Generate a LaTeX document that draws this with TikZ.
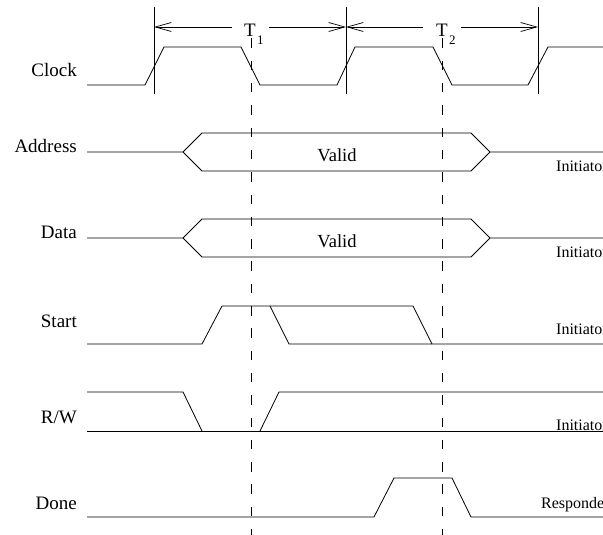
\documentclass[tikz,border=0pt]{standalone}
\usepackage{fontspec}
\setmainfont{Liberation Serif}
\usetikzlibrary{arrows.meta}
\begin{document}
\begin{tikzpicture}[x=1pt,y=-1pt,
  wave/.style={line width=0.8pt,line join=miter},
  marker/.style={line width=0.8pt},
  guide/.style={line width=0.8pt,dash pattern=on 9.5pt off 12.8pt},
  period/.style={line width=0.7pt,-{Straight Barb[length=16pt,width=9pt,line width=0.7pt]}},
  siglabel/.style={anchor=base east,inner sep=0pt,font=\fontsize{19}{21}\selectfont},
  datalabel/.style={anchor=base,inner sep=0pt,font=\fontsize{18.5}{20}\selectfont},
  role/.style={anchor=base west,inner sep=0pt,font=\fontsize{16}{18}\selectfont}]
\useasboundingbox (0,0) rectangle (603,535);
\clip (0,0) rectangle (603,535);

% clock period markers
\coordinate (m0) at (154,27);
\coordinate (m1) at (346,27);
\coordinate (m2) at (538,27);
\foreach \x in {154,346,538} \draw[marker] (\x,7) -- (\x,94);
\node[anchor=base west,inner sep=0pt,font=\fontsize{19}{20}\selectfont] (t1) at (244,37) {T};
\node[anchor=base west,inner sep=0pt,font=\fontsize{13}{14}\selectfont] (t1s) at (257,45) {1};
\node[anchor=base west,inner sep=0pt,font=\fontsize{19}{20}\selectfont] (t2) at (436,37) {T};
\node[anchor=base west,inner sep=0pt,font=\fontsize{13}{14}\selectfont] (t2s) at (449,45) {2};
\coordinate (a1l) at (232,27); \coordinate (a1r) at (269,27);
\coordinate (a2l) at (423,27); \coordinate (a2r) at (461,27);
\draw[period] (a1l) -- (m0);
\draw[period] (a1r) -- (m1);
\draw[period] (a2l) -- (m1);
\draw[period] (a2r) -- (m2);

% sampling guides
\draw[guide] (251,38.4) -- (251,540);
\draw[guide] (442,38.4) -- (442,540);

% signal names
\node[siglabel] (lclk)  at (77,77)  {Clock};
\node[siglabel] (laddr) at (77,152) {Address};
\node[siglabel] (ldata) at (77,238) {Data};
\node[siglabel] (lst)   at (77,327) {Start};
\node[siglabel] (lrw)   at (77,423) {R/W};
\node[siglabel] (ldone) at (77,509) {Done};

% Clock
\draw[wave] (87,85) -- (145,85) -- (164,47) -- (241,47) -- (260,85) -- (337,85)
  -- (355,47) -- (433,47) -- (452,85) -- (528,85) -- (548,47) -- (610,47);

% Address bus
\draw[wave] (87,152) -- (183,152) -- (202,133) -- (471,133) -- (490,152) -- (610,152);
\draw[wave] (183,152) -- (202,171) -- (471,171) -- (490,152);
\node[datalabel] (vaddr) at (337,161) {Valid};
\node[role] (iaddr) at (556,171) {Initiator};

% Data bus
\draw[wave] (87,238) -- (183,238) -- (202,219) -- (471,219) -- (490,238) -- (610,238);
\draw[wave] (183,238) -- (202,257) -- (471,257) -- (490,238);
\node[datalabel] (vdata) at (337,247) {Valid};
\node[role] (idata) at (556,257) {Initiator};

% Start
\draw[wave] (87,344) -- (202,344) -- (222,306) -- (413,306) -- (432,344) -- (610,344);
\draw[wave] (270,306) -- (289,344) -- (432,344);
\node[role] (ist) at (556,334) {Initiator};

% R/W
\draw[wave] (87,392) -- (183,392) -- (202,431);
\draw[wave] (87,431) -- (610,431);
\draw[wave] (260,431) -- (279,392) -- (610,392);
\node[role] (irw) at (556,430) {Initiator};

% Done
\draw[wave] (87,517) -- (374,517) -- (394,478) -- (452,478) -- (471,517) -- (610,517);
\node[role] (rdone) at (541,508) {Responder};
\end{tikzpicture}
\end{document}
